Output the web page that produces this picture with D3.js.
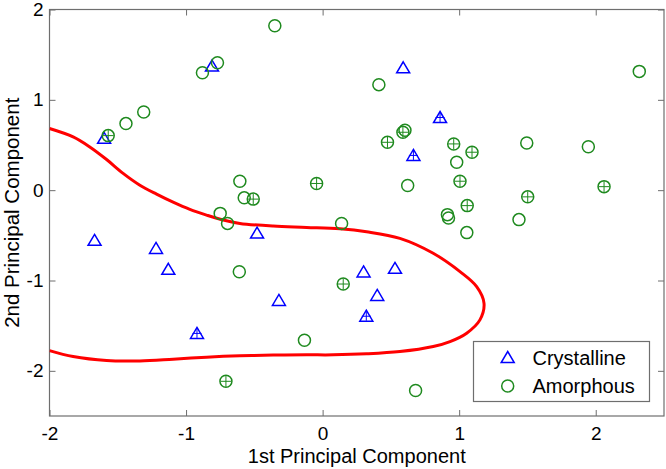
<!DOCTYPE html>
<html>
<head>
<meta charset="utf-8">
<script src="https://cdn.jsdelivr.net/npm/d3@7"></script>
<style>
  html, body { margin: 0; padding: 0; background: #fff; }
  svg { display: block; font-family: "Liberation Sans", Arial, sans-serif; }
</style>
</head>
<body>
<svg id="chart" width="666" height="469"></svg>
<script>
// ---------------- data ----------------
const xTicks = [-2, -1, 0, 1, 2];
const yTicks = [-2, -1, 0, 1, 2];
const xTitle = "1st Principal Component";
const yTitle = "2nd Principal Component";
const seriesNames = ["Crystalline", "Amorphous"];

const crystallineX = [-1.60, -0.81, 0.59, 0.86, 0.665, -1.67, -1.22, -1.13, -0.48, -0.32, -0.92, 0.30, 0.53, 0.40, 0.32];
const crystallineY = [0.58, 1.38, 1.36, 0.81, 0.39, -0.55, -0.64, -0.87, -0.47, -1.215, -1.58, -0.90, -0.86, -1.16, -1.39];
const crystallinePlus = [0, 0, 0, 1, 1, 0, 0, 0, 0, 0, 1, 0, 0, 0, 1];

const amorphousX = [-0.35, -0.77, -0.88, -1.31, -1.44, -1.57, -0.606, -0.574, -0.508, -0.044, -0.75, -0.696, 0.139, -0.61, 0.151, -0.133, -0.708, 0.681, 0.914, 0.922, 1.059, 1.438, 1.056, 1.502, 0.412, 0.603, 0.588, 0.475, 0.96, 1.094, 0.982, 1.495, 1.946, 2.319, 0.623, 1.006, 2.061];
const amorphousY = [1.82, 1.41, 1.30, 0.865, 0.737, 0.604, 0.099, -0.085, -0.099, 0.074, -0.257, -0.368, -0.368, -0.904, -1.039, -1.661, -2.116, -2.218, -0.271, -0.309, -0.171, -0.326, -0.47, -0.074, 1.168, 0.663, 0.641, 0.53, 0.512, 0.42, 0.309, 0.523, 0.481, 1.315, 0.052, 0.099, 0.039];
const amorphousPlus = [0, 0, 0, 0, 0, 1, 0, 0, 1, 1, 0, 0, 0, 0, 1, 0, 1, 0, 0, 0, 1, 0, 0, 1, 0, 0, 1, 1, 1, 1, 0, 0, 0, 0, 0, 1, 1];

// decision boundary (red curve)
const boundaryX = [-2.00, -1.827, -1.705, -1.582, -1.461, -1.338, -1.216, -1.095, -0.972, -0.850, -0.728, -0.606, -0.362, -0.117, 0.127, 0.322, 0.566, 0.810, 1.006, 1.128, 1.182, 1.152, 1.055, 0.933, 0.810, 0.566, 0.322, 0.078, -0.117, -0.362, -0.606, -0.850, -1.095, -1.338, -1.582, -1.827, -2.00];
const boundaryY = [0.682, 0.589, 0.478, 0.339, 0.186, 0.055, -0.044, -0.133, -0.213, -0.276, -0.331, -0.368, -0.398, -0.412, -0.428, -0.461, -0.534, -0.699, -0.902, -1.068, -1.252, -1.436, -1.583, -1.676, -1.731, -1.787, -1.812, -1.823, -1.823, -1.826, -1.834, -1.849, -1.871, -1.890, -1.886, -1.842, -1.776];

(function () {
// ---------------- layout ----------------
const svg = d3.select("#chart");
const L = 49.5, R = 664, T = 9.5, B = 416;
const x = d3.scaleLinear().domain([-2, 2.5]).range([L, R]);
const y = d3.scaleLinear().domain([-2.5, 2]).range([B, T]);
const axisColor = "#6e6e6e";
const blue = "#0000ff";
const green = "#1f8a1f";
const tickFont = 19;

svg.append("defs").append("clipPath").attr("id", "clip")
  .append("rect").attr("x", L).attr("y", T).attr("width", R - L).attr("height", B - T);

function styleAxis(g, showLabels) {
  g.select(".domain").remove();
  g.selectAll(".tick line").attr("stroke", axisColor).attr("stroke-width", 1);
  g.selectAll(".tick text")
    .attr("fill", "#000")
    .style("font-size", tickFont + "px")
    .style("font-family", "Liberation Sans, Arial, sans-serif");
  if (!showLabels) g.selectAll(".tick text").remove();
}
const gBottom = svg.append("g").attr("transform", `translate(0,${B})`)
  .call(d3.axisBottom(x).tickValues(xTicks).tickSizeInner(-6).tickSizeOuter(0).tickPadding(11).tickFormat(d3.format("d")));
styleAxis(gBottom, true);
const gTop = svg.append("g").attr("transform", `translate(0,${T})`)
  .call(d3.axisTop(x).tickValues(xTicks).tickSizeInner(-6).tickSizeOuter(0));
styleAxis(gTop, false);
const gLeft = svg.append("g").attr("transform", `translate(${L},0)`)
  .call(d3.axisLeft(y).tickValues(yTicks).tickSizeInner(-6).tickSizeOuter(0).tickPadding(6).tickFormat(d3.format("d")));
styleAxis(gLeft, true);
const gRight = svg.append("g").attr("transform", `translate(${R},0)`)
  .call(d3.axisRight(y).tickValues(yTicks).tickSizeInner(-6).tickSizeOuter(0));
styleAxis(gRight, false);

svg.selectAll(".tick text").text(function(){ return d3.select(this).text().replace("\u2212", "-"); });

svg.append("rect").attr("x", L).attr("y", T).attr("width", R - L).attr("height", B - T)
  .attr("fill", "none").attr("stroke", axisColor).attr("stroke-width", 1.2);

// boundary
const boundary = boundaryX.map((v, i) => [v, boundaryY[i]]);
svg.append("path")
  .attr("clip-path", "url(#clip)")
  .attr("d", d3.line().x(d => x(d[0])).y(d => y(d[1])).curve(d3.curveCatmullRom.alpha(0.5))(boundary))
  .attr("fill", "none").attr("stroke", "#ff0000").attr("stroke-width", 3);

// markers
function trianglePath(cx, cy) {
  const hw = 6.5, hh = 5.5;
  return `M${cx},${cy - hh}L${cx + hw},${cy + hh}L${cx - hw},${cy + hh}Z`;
}
function plusPath(cx, cy, h) {
  return `M${cx - h},${cy}L${cx + h},${cy}M${cx},${cy - h}L${cx},${cy + h}`;
}
const pts = svg.append("g").attr("clip-path", "url(#clip)");

const cryst = crystallineX.map((v, i) => ({ x: v, y: crystallineY[i], plus: crystallinePlus[i] }));
const amor = amorphousX.map((v, i) => ({ x: v, y: amorphousY[i], plus: amorphousPlus[i] }));

pts.selectAll("path.tri").data(cryst).enter().append("path").attr("class", "tri")
  .attr("d", d => trianglePath(x(d.x), y(d.y)))
  .attr("fill", "none").attr("stroke", blue).attr("stroke-width", 1.5);
pts.selectAll("path.triplus").data(cryst.filter(d => d.plus)).enter().append("path").attr("class", "triplus")
  .attr("d", d => plusPath(x(d.x), y(d.y) + 0.5, 4.5))
  .attr("fill", "none").attr("stroke", blue).attr("stroke-width", 1);

pts.selectAll("circle.am").data(amor).enter().append("circle").attr("class", "am")
  .attr("cx", d => x(d.x)).attr("cy", d => y(d.y)).attr("r", 6)
  .attr("fill", "none").attr("stroke", green).attr("stroke-width", 1.5);
pts.selectAll("path.amplus").data(amor.filter(d => d.plus)).enter().append("path").attr("class", "amplus")
  .attr("d", d => plusPath(x(d.x), y(d.y), 5.5))
  .attr("fill", "none").attr("stroke", green).attr("stroke-width", 1);

// axis titles
svg.append("text").attr("x", (L + R) / 2).attr("y", 463).attr("text-anchor", "middle")
  .style("font-size", "20px").text(xTitle);
svg.append("text").attr("transform", `translate(19,${(T + B) / 2}) rotate(-90)`).attr("text-anchor", "middle")
  .style("font-size", "20.5px").text(yTitle);

// legend
const lg = svg.append("g");
lg.append("rect").attr("x", 473.5).attr("y", 341.5).attr("width", 176).attr("height", 60)
  .attr("fill", "#fff").attr("stroke", axisColor).attr("stroke-width", 1.2);
lg.append("path").attr("d", trianglePath(507.7, 357)).attr("fill", "none").attr("stroke", blue).attr("stroke-width", 1.5);
lg.append("circle").attr("cx", 507.7).attr("cy", 386).attr("r", 6).attr("fill", "none").attr("stroke", green).attr("stroke-width", 1.5);
lg.append("text").attr("x", 532.5).attr("y", 365).style("font-size", "20px").text(seriesNames[0]);
lg.append("text").attr("x", 532.5).attr("y", 393).style("font-size", "20px").text(seriesNames[1]);
})();
</script>
</body>
</html>
